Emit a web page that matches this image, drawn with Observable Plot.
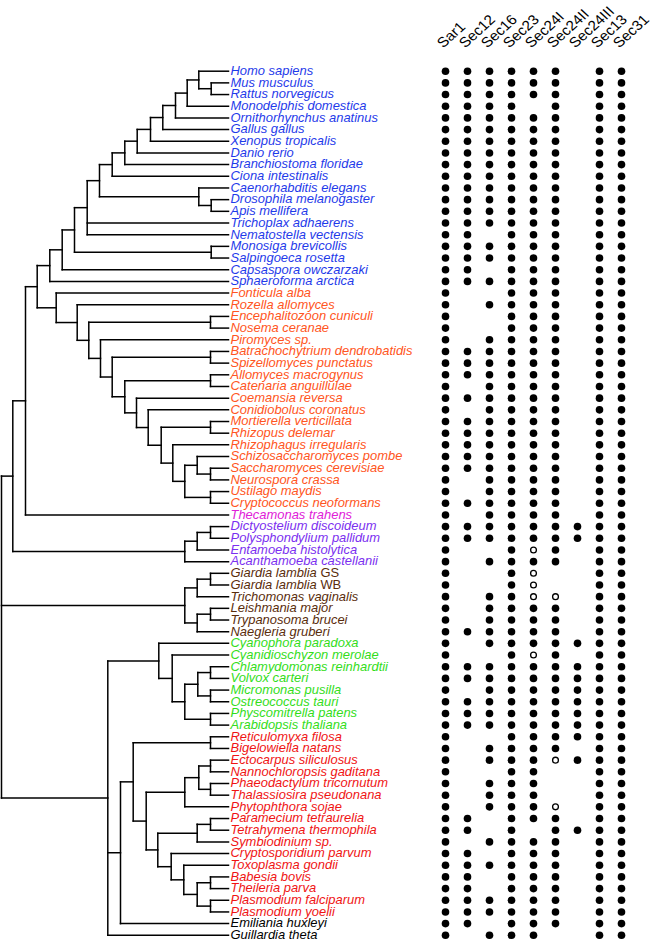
<!DOCTYPE html>
<html><head><meta charset="utf-8">
<script src="https://cdn.jsdelivr.net/npm/d3@7"></script>
<script src="https://cdn.jsdelivr.net/npm/@observablehq/plot@0.6"></script>
<style>
html,body{margin:0;padding:0;background:#fff;}
#chart{display:flex;width:660px;height:943px;}
#chart svg{overflow:visible;display:block;background:transparent}
</style></head><body><div id="chart"></div>
<script>
// ---------- data ----------
const species = ["Homo sapiens","Mus musculus","Rattus norvegicus","Monodelphis domestica","Ornithorhynchus anatinus","Gallus gallus","Xenopus tropicalis","Danio rerio","Branchiostoma floridae","Ciona intestinalis","Caenorhabditis elegans","Drosophila melanogaster","Apis mellifera","Trichoplax adhaerens","Nematostella vectensis","Monosiga brevicollis","Salpingoeca rosetta","Capsaspora owczarzaki","Sphaeroforma arctica","Fonticula alba","Rozella allomyces","Encephalitozoon cuniculi","Nosema ceranae","Piromyces sp.","Batrachochytrium dendrobatidis","Spizellomyces punctatus","Allomyces macrogynus","Catenaria anguillulae","Coemansia reversa","Conidiobolus coronatus","Mortierella verticillata","Rhizopus delemar","Rhizophagus irregularis","Schizosaccharomyces pombe","Saccharomyces cerevisiae","Neurospora crassa","Ustilago maydis","Cryptococcus neoformans","Thecamonas trahens","Dictyostelium discoideum","Polysphondylium pallidum","Entamoeba histolytica","Acanthamoeba castellanii","Giardia lamblia GS","Giardia lamblia WB","Trichomonas vaginalis","Leishmania major","Trypanosoma brucei","Naegleria gruberi","Cyanophora paradoxa","Cyanidioschyzon merolae","Chlamydomonas reinhardtii","Volvox carteri","Micromonas pusilla","Ostreococcus tauri","Physcomitrella patens","Arabidopsis thaliana","Reticulomyxa filosa","Bigelowiella natans","Ectocarpus siliculosus","Nannochloropsis gaditana","Phaeodactylum tricornutum","Thalassiosira pseudonana","Phytophthora sojae","Paramecium tetraurelia","Tetrahymena thermophila","Symbiodinium sp.","Cryptosporidium parvum","Toxoplasma gondii","Babesia bovis","Theileria parva","Plasmodium falciparum","Plasmodium yoelii","Emiliania huxleyi","Guillardia theta"];

const clades = ["Holozoa","Fungi","Apusozoa","Amoebozoa","Excavata","Archaeplastida","SAR","Other"];
const cladeSizes = [19,19,1,4,6,8,16,2];
const cladeColors = ["#1f3bea","#ff5522","#e020d8","#7b2ff0","#5a2d0c","#33dd1a","#f01414","#000000"];
const strainSuffix = ["GS","WB"];

const genes = ["Sar1","Sec12","Sec16","Sec23","Sec24I","Sec24II","Sec24III","Sec13","Sec31"];
// 1 = present (filled), o = open circle, 0 = absent ; one string per species, genes in order
const presence = [
"111111011","111111011","111111011","111101011","111111011","111111011","111111011","111111011","111111011","111111011",
"111111011","111111011","111111011","111111011","110111011","111111011","111111011","110111011","111111011",
"100111011","101111011","100111011","100111011","101111011","111111011","111111011","111111011","101111011","111111011",
"101111011","111111011","111111011","111111011","111111011","111111011","101111011","101111011","111111011",
"101111011",
"111111111","111111111","1001o1011","101111011",
"1001o0011","1001o0011","1011oo011","101111011","101111011","111111011",
"101111111","1001o1011","111111111","111111111","101111111","111111111","111111111","111111111",
"100111111","101111011","10111o111","100110011","101110011","101110011","10111o011","110111011","110101111","101111011",
"110111011","111111011","110111011","110111011","111111011","111111011",
"110111011","101110011"
];

// internal nodes: [id, parent, depth]
const nodes = [
["root",null,1],["Amorphea","root",12.3],["Obazoa","Amorphea",25],["Opisthokonta","Obazoa",36.7],
["Holozoa","Opisthokonta",49.3],["H2","Holozoa",61.7],["H3","H2",74],["Metazoa","H3",86.7],["Bilateria","Metazoa",99],
["Deut","Bilateria",111.7],["D2","Deut",124.3],["D3","D2",136.7],["D4","D3",150],["D5","D4",162.3],["D6","D5",175],
["D7","D6",186.7],["D8","D7",198.3],["Muridae","D8",210.7],["Ecdyso","Bilateria",198.3],["Insecta","Ecdyso",210.7],
["Choano","H3",210.7],
["Holomycota","Opisthokonta",55.7],["F2","Holomycota",76.7],["F3","F2",88.3],["Microsp","F3",210],["F4","F3",100],
["F5","F4",111.7],["Chytrid","F5",210],["F6","F5",124.3],["Blasto","F6",210],["F7","F6",136],["F8","F7",147.7],
["F9","F8",160.7],["Mucor","F9",210],["F10","F9",172.3],["Dikarya","F10",184.3],["Asco","Dikarya",196.7],
["Sacch","Asco",210],["Basidio","Dikarya",210],
["Amoebozoa","Amorphea",184.3],["A2","Amoebozoa",196.7],["Dicty","A2",210],
["Excavata","root",184.3],["Metamonada","Excavata",196.7],["Giardia","Metamonada",210],["Discoba","Excavata",196.7],["Trypano","Discoba",210],
["Diaph","root",107.3],["Archaeplastida","Diaph",158.3],["P2","Archaeplastida",171.7],["Viridiplantae","P2",184.3],
["Chlorophyta","Viridiplantae",197.3],["Chlamy","Chlorophyta",210],["Mamiello","Chlorophyta",210],["Embryophyta","Viridiplantae",210],
["S1","Diaph",120],["SAR","S1",132.7],["Rhizaria","SAR",210],["SA","SAR",145.7],["Stramenopiles","SA",184.3],
["St2","Stramenopiles",198.3],["Ochrophyta","St2",210],["Diatoms","St2",210],["Alveolata","SA",157.3],["Al2","Alveolata",196.7],
["Ciliates","Al2",210],["Apicomplexa","Alveolata",170.7],["Ap2","Apicomplexa",183.3],["Ap3","Ap2",196.7],
["Piroplasm","Ap3",210],["Plasmodium","Ap3",210]
];
const leafParent = ["D8","Muridae","Muridae","D7","D6","D5","D4","D3","D2","Deut","Ecdyso","Insecta","Insecta","Metazoa","Metazoa","Choano","Choano","H2","Holozoa",
"Holomycota","F2","Microsp","Microsp","F4","Chytrid","Chytrid","Blasto","Blasto","F7","F8","Mucor","Mucor","F10","Asco","Sacch","Sacch","Basidio","Basidio",
"Obazoa","Dicty","Dicty","A2","Amoebozoa","Giardia","Giardia","Metamonada","Trypano","Trypano","Discoba",
"Archaeplastida","P2","Chlamy","Chlamy","Mamiello","Mamiello","Embryophyta","Embryophyta",
"Rhizaria","Rhizaria","Ochrophyta","Ochrophyta","Diatoms","Diatoms","Stramenopiles","Ciliates","Ciliates","Al2","Apicomplexa","Ap2",
"Piroplasm","Piroplasm","Plasmodium","Plasmodium","S1","Diaph"];
const leafDepth = 228;

// ---------- build ----------
const cladeOf = cladeSizes.flatMap((n,i)=>Array(n).fill(clades[i]));
const leaves = species.map((name,i)=>{
  const parts = name.split(" "); const last = parts[parts.length-1];
  const strain = strainSuffix.includes(last) ? last : "";
  return {name, italic: strain ? parts.slice(0,-1).join(" ") : name, strain, row:i, clade:cladeOf[i], parent:leafParent[i], depth:leafDepth, children:[]};
});
const nodeMap = new Map(nodes.map(([id,parent,depth])=>[id,{id,parent,depth,children:[]}]));
for (const n of nodeMap.values()) if (n.parent) nodeMap.get(n.parent).children.push(n);
leaves.forEach(l=>nodeMap.get(l.parent).children.push(l));
function layout(n){
  if(!n.children.length){ n.y = n.row; return n.y; }
  const ys = n.children.map(layout);
  n.ymin = Math.min(...ys); n.ymax = Math.max(...ys); n.y = (n.ymin+n.ymax)/2; return n.y;
}
layout(nodeMap.get("root"));
const hLinks = [], vLinks = [];
for (const n of [...nodeMap.values(), ...leaves]) {
  if (n.parent) { const p = nodeMap.get(n.parent); hLinks.push({x1:p.depth, x2:n.depth, y:n.y}); }
  if (n.children.length) vLinks.push({x:n.depth, y1:n.ymin, y2:n.ymax});
}
const cells = presence.flatMap((s,row)=>genes.map((g,j)=>({gene:g,row,v:s[j]})));

// ---------- plots ----------
const FONT = "'Liberation Sans', Arial, Helvetica, sans-serif";
const yScale = {domain:[0, species.length-1], range:[70.7, 934.8], axis:null};

const tree = Plot.plot({
  width:430, height:943, marginTop:0, marginBottom:0, marginLeft:0, marginRight:0,
  x:{domain:[0,430], range:[0,430], axis:null},
  y:yScale,
  color:{domain:clades, range:cladeColors},
  style:{background:"transparent"},
  marks:[
    Plot.link(hLinks,{x1:"x1",x2:"x2",y1:"y",y2:"y",stroke:"black",strokeWidth:1.5,strokeLinecap:"square"}),
    Plot.link(vLinks,{x1:"x",x2:"x",y1:"y1",y2:"y2",stroke:"black",strokeWidth:1.5,strokeLinecap:"square"}),
    Plot.text(leaves,{x:"depth",y:"row",text:"italic",fill:"clade",dx:2,textAnchor:"start",fontStyle:"italic",fontSize:12,fontFamily:FONT})
  ]
});

const matrix = Plot.plot({
  width:230, height:943, marginTop:0, marginBottom:0, marginLeft:0, marginRight:0,
  x:{type:"point", domain:genes, range:[11.7,193.3], padding:0, axis:null},
  y:yScale,
  style:{background:"transparent"},
  marks:[
    Plot.dot(cells.filter(c=>c.v==="1"),{x:"gene",y:"row",r:3.8,fill:"black"}),
    Plot.dot(cells.filter(c=>c.v==="o"),{x:"gene",y:"row",r:2.9,fill:"white",stroke:"black",strokeWidth:1.3}),
    Plot.text(genes,{x:d=>d,frameAnchor:"top",dy:41,dx:-10,rotate:-45,textAnchor:"start",fontSize:14,fontFamily:FONT,fill:"black"})
  ]
});

// horizontal stretch of text glyphs (as in the reference) and roman strain suffix
function stretch(t, s){
  const tr = t.getAttribute("transform");
  if (tr && tr.startsWith("translate")) t.setAttribute("transform", tr.replace(")", `) scale(${s},1)`));
}
tree.querySelectorAll('g[aria-label="text"] text').forEach((t,i)=>{
  stretch(t, 1.08);
  const l = leaves[i];
  if (l && l.strain) {
    const ts = document.createElementNS("http://www.w3.org/2000/svg","tspan");
    ts.setAttribute("font-style","normal");
    ts.textContent = " " + l.strain;
    t.appendChild(ts);
  }
});
matrix.querySelectorAll('g[aria-label="text"] text').forEach(t=>stretch(t, 1.1));

const chart = document.getElementById("chart");
chart.appendChild(tree);
chart.appendChild(matrix);
</script></body></html>
